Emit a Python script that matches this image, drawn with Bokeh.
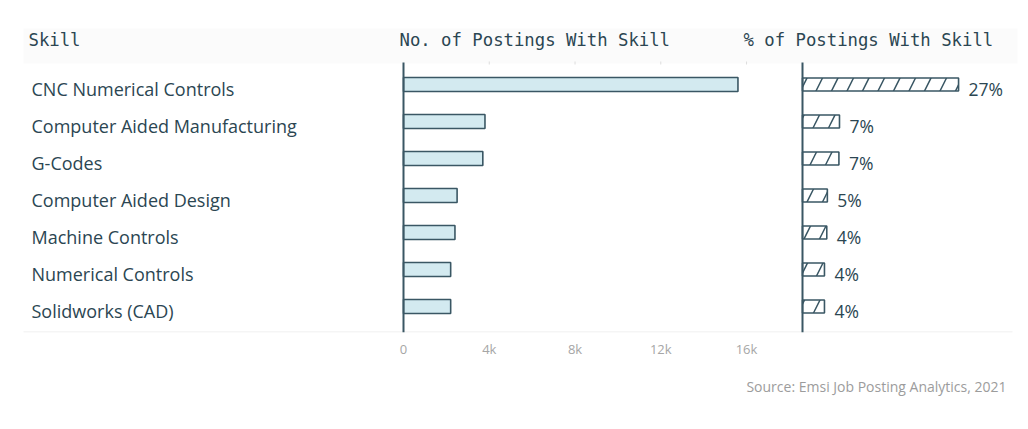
from bokeh.plotting import figure
from bokeh.models import Range1d, LinearAxis, FixedTicker, Title
from bokeh.core.properties import value
from bokeh.embed import file_html
from bokeh.resources import INLINE

# ---------------- data ----------------
skills = [
    "CNC Numerical Controls",
    "Computer Aided Manufacturing",
    "G-Codes",
    "Computer Aided Design",
    "Machine Controls",
    "Numerical Controls",
    "Solidworks (CAD)",
]
postings = [15600, 3800, 3700, 2500, 2400, 2200, 2200]
pct_values = [27.0, 6.4, 6.3, 4.3, 4.2, 3.8, 3.8]
pct_labels = ["27%", "7%", "7%", "5%", "4%", "4%", "4%"]
count_ticks = [0, 4000, 8000, 12000, 16000]
count_tick_labels = ["0", "4k", "8k", "12k", "16k"]
headers = ["Skill", "No. of Postings With Skill", "% of Postings With Skill"]
source_note = "Source: Emsi Job Posting Analytics, 2021"

# ---------------- layout (screen pixels) ----------------
W, H = 1020, 421
FRAME_L, FRAME_R = 0, W
FRAME_T, FRAME_B = 0, 332
COUNT_ZERO_PX, COUNT_PX_PER_UNIT = 403, 21.44 / 1000.0
PCT_ZERO_PX, PCT_PX_PER_UNIT = 802, 5.78
ROW0_PX, ROW_STEP = 84, 37.0
n = len(skills)
rows = list(range(n))

TEXT = "#2b4652"
DARK = "#3a5764"
FILL = "#d3eaf0"
SANS = "Open Sans"
MONO = "DejaVu Sans Mono"

x_range = Range1d((FRAME_L - COUNT_ZERO_PX) / COUNT_PX_PER_UNIT,
                  (FRAME_R - COUNT_ZERO_PX) / COUNT_PX_PER_UNIT)
y_range = Range1d((FRAME_B - ROW0_PX) / ROW_STEP, -(ROW0_PX - FRAME_T) / ROW_STEP)

p = figure(width=W, height=H, x_range=x_range, y_range=y_range,
           output_backend="svg", toolbar_location=None,
           x_axis_location=None, y_axis_location=None,
           min_border_left=0, min_border_right=0, min_border_top=0,
           min_border_bottom=H - (FRAME_B - FRAME_T))
p.extra_x_ranges = {
    "pct": Range1d((FRAME_L - PCT_ZERO_PX) / PCT_PX_PER_UNIT,
                   (FRAME_R - PCT_ZERO_PX) / PCT_PX_PER_UNIT),
    "px": Range1d(FRAME_L, FRAME_R),
}
p.extra_y_ranges = {"px": Range1d(FRAME_B, FRAME_T)}
p.grid.visible = False
p.outline_line_color = None
p.background_fill_color = "white"
p.border_fill_color = "white"

# faint header band and separator
p.quad(left=23, right=1017, top=28, bottom=63, fill_color="#fbfbfb",
       line_color=None, x_range_name="px", y_range_name="px")
p.segment(x0=23, x1=1012, y0=331.5, y1=331.5, line_color="#ebebeb",
          line_width=1, x_range_name="px", y_range_name="px")

# headers
p.text(x=[28, 399, 743], y=[39, 39, 39], text=headers,
       text_font=value(MONO), text_font_size="17.3px", text_color=TEXT,
       text_baseline="middle", x_range_name="px", y_range_name="px")

# faint top ticks
p.segment(x0=count_ticks[1:], x1=count_ticks[1:], y0=[61] * 4, y1=[64] * 4,
          line_color="#dddddd", line_width=1, y_range_name="px")

# count bars
p.hbar(y=rows, left=0, right=postings, height=14 / ROW_STEP,
       fill_color=FILL, line_color=DARK, line_width=1.6)

# percentage bars (hatched)
p.hbar(y=rows, left=0, right=pct_values, height=13 / ROW_STEP,
       fill_color="white", line_color=DARK, line_width=1.6,
       hatch_pattern="/", hatch_color=DARK, hatch_scale=31, hatch_weight=1.5,
       x_range_name="pct")

# axis lines
p.segment(x0=[0], x1=[0], y0=[62], y1=[332], line_color=DARK, line_width=2,
          y_range_name="px")
p.segment(x0=[0], x1=[0], y0=[62], y1=[332], line_color=DARK, line_width=2,
          x_range_name="pct", y_range_name="px")

# category labels
p.text(x=[31] * n, y=rows, text=skills, y_offset=4.5,
       text_font=value(SANS), text_font_size="18px", text_color=TEXT,
       text_baseline="middle", x_range_name="px")

# percentage labels
p.text(x=pct_values, y=rows, text=pct_labels, x_offset=10, y_offset=4,
       text_font=value(SANS), text_font_size="17.5px", text_color=TEXT,
       text_baseline="middle", x_range_name="pct")

# bottom axis
ax = LinearAxis(ticker=FixedTicker(ticks=count_ticks),
                major_label_overrides={t: l for t, l in zip(count_ticks, count_tick_labels)},
                axis_line_color=None, major_tick_line_color=None,
                minor_tick_line_color=None, major_tick_out=0,
                major_label_standoff=7,
                major_label_text_color="#a6a6a6",
                major_label_text_font=SANS,
                major_label_text_font_size="13px")
p.add_layout(ax, "below")

p.add_layout(Title(text=source_note, align="right", offset=14, standoff=28,
                   text_font=SANS, text_font_size="14px",
                   text_font_style="normal", text_color="#9c9c9c"), "below")

open("out.html", "w").write(file_html(p, INLINE))
